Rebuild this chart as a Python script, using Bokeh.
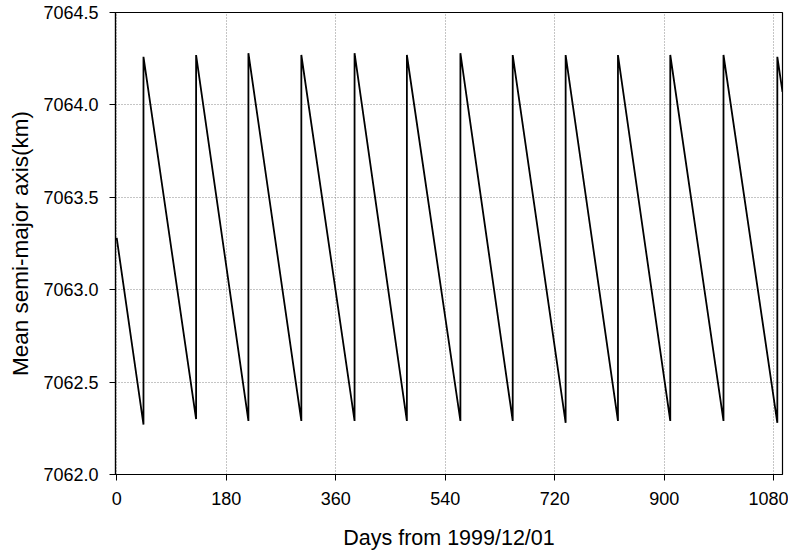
from bokeh.plotting import figure
from bokeh.models import FixedTicker, PrintfTickFormatter, Range1d, ColumnDataSource
from bokeh.embed import file_html
from bokeh.resources import INLINE

# ---- data ----
start_day = 0.0
start_sma = 7063.28
burn_days = [44.0, 130.5, 216.5, 303.5, 391.0, 477.0, 565.0, 651.0, 738.0, 824.0, 910.0, 997.5, 1086.0]
sma_before_burn = [7062.27, 7062.30, 7062.29, 7062.29, 7062.29, 7062.29, 7062.29, 7062.29,
                   7062.28, 7062.29, 7062.29, 7062.29, 7062.28]
sma_after_burn = [7064.26, 7064.27, 7064.28, 7064.27, 7064.28, 7064.27, 7064.28, 7064.27,
                  7064.27, 7064.27, 7064.27, 7064.27, 7064.26]
end_day = 1094.5
end_sma = 7064.07

x_ticks = [0, 180, 360, 540, 720, 900, 1080]
y_ticks = [7062.0, 7062.5, 7063.0, 7063.5, 7064.0, 7064.5]

# build the sawtooth path
xs = [start_day]
ys = [start_sma]
for d, lo, hi in zip(burn_days, sma_before_burn, sma_after_burn):
    xs += [d, d]
    ys += [lo, hi]
xs.append(end_day)
ys.append(end_sma)
src = ColumnDataSource(dict(x=xs, y=ys))

FONT = "Liberation Sans"

p = figure(width=788, height=557, output_backend="svg", toolbar_location=None,
           x_range=Range1d(-2, 1094.5), y_range=Range1d(7062.0, 7064.5),
           min_border_left=115, min_border_right=6, min_border_top=12, min_border_bottom=83)

p.line("x", "y", source=src, line_color="black", line_width=1.8)

p.outline_line_color = "black"
p.outline_line_width = 1.2
p.background_fill_color = "white"
p.border_fill_color = "white"

p.xaxis.ticker = FixedTicker(ticks=x_ticks)
p.yaxis.ticker = FixedTicker(ticks=y_ticks)
p.yaxis.formatter = PrintfTickFormatter(format="%.1f")
p.xaxis.formatter = PrintfTickFormatter(format="%d")

for ax in (p.xaxis, p.yaxis):
    ax.axis_line_color = "black"
    ax.axis_line_width = 1.2
    ax.major_tick_line_color = "black"
    ax.major_tick_out = 6
    ax.major_tick_in = 0
    ax.minor_tick_line_color = None
    ax.major_label_text_font = FONT
    ax.major_label_text_font_size = "18px"
    ax.major_label_text_color = "black"
    ax.axis_label_text_font = FONT
    ax.axis_label_text_font_style = "normal"
    ax.axis_label_text_color = "black"

p.xaxis.axis_label = "Days from 1999/12/01"
p.xaxis.axis_label_text_font_size = "21.5px"
p.xaxis.major_label_standoff = 11
p.xaxis.axis_label_standoff = 18

p.yaxis.axis_label = "Mean semi-major axis(km)"
p.yaxis.axis_label_text_font_size = "22.5px"
p.yaxis.major_label_standoff = 11
p.yaxis.axis_label_standoff = 7

for g in (p.xgrid, p.ygrid):
    g.grid_line_color = "#8a8a8a"
    g.grid_line_dash = "1 2"
    g.grid_line_width = 1

open("out.html", "w").write(file_html(p, INLINE))
